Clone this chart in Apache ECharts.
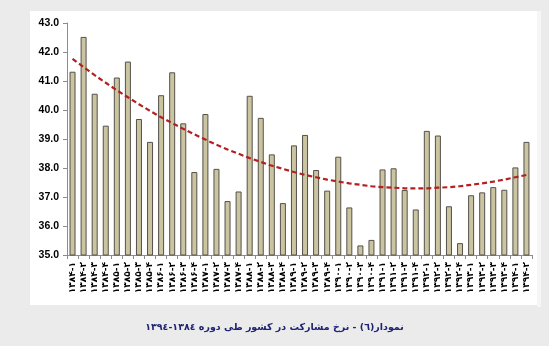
<!DOCTYPE html>
<html><head><meta charset="utf-8">
<script src="https://cdn.jsdelivr.net/npm/echarts@6/dist/echarts.min.js"></script>
<style>html,body{margin:0;padding:0;background:#ebebeb}#c{width:549px;height:346px}</style>
</head><body><div id="c"></div>
<script>
const years = ['۱۳۸۴','۱۳۸۵','۱۳۸۶','۱۳۸۷','۱۳۸۸','۱۳۸۹','۱۳۹۰','۱۳۹۱','۱۳۹۲','۱۳۹۳','۱۳۹۴'];
const quarters = ['۱','۲','۳','۴'];
const categories = [];
years.forEach(y => quarters.forEach(q => categories.push(y + '-' + q)));
categories.length = 42; // up to ۱۳۹۴-۲

const participation = [41.32,42.52,40.56,39.46,41.12,41.67,39.69,38.90,40.51,41.30,
  39.54,37.86,39.86,37.97,36.86,37.19,40.49,39.73,38.47,36.79,
  38.78,39.14,37.93,37.22,38.39,36.64,35.33,35.52,37.95,37.99,
  37.24,36.57,39.28,39.12,36.68,35.41,37.06,37.16,37.34,37.25,
  38.02,38.90];

const trend = [41.76,41.48,41.20,40.94,40.68,40.44,40.20,39.97,39.75,39.55,
  39.35,39.16,38.98,38.80,38.64,38.49,38.34,38.21,38.08,37.97,
  37.86,37.76,37.68,37.60,37.53,37.47,37.42,37.37,37.34,37.32,
  37.30,37.30,37.30,37.32,37.34,37.37,37.42,37.47,37.53,37.60,
  37.68,37.76];

const yTicks = {min: 35, max: 43, interval: 1};
const titleText = '\u202Bنمودار(٦) - نرخ مشارکت در کشور طی دوره ١٣٨٤-١٣٩٤\u202C';

const chart = echarts.init(document.getElementById('c'));
chart.setOption({
  backgroundColor: '#ebebeb',
  animation: false,
  graphic: {elements: [
    {type: 'rect', z: -10, shape: {x: 30, y: 11, width: 507, height: 294}, style: {fill: '#ffffff'}},
    {type: 'rect', z: -11, shape: {x: 537, y: 11, width: 4, height: 296}, style: {fill: '#f6f6f6'}}
  ]},
  title: {
    text: titleText, left: 'center', top: 318,
    textStyle: {fontFamily: 'DejaVu Sans', fontSize: 9.5, fontWeight: 'bold', color: '#1f2472'}
  },
  grid: {left: 67, right: 17, top: 23, bottom: 91},
  xAxis: {
    type: 'category', data: categories, boundaryGap: true,
    axisLine: {lineStyle: {color: '#8c8c8c'}},
    axisTick: {show: true, interval: 0, length: 4, lineStyle: {color: '#8c8c8c'}},
    axisLabel: {interval: 0, rotate: 90, margin: 7, fontFamily: 'DejaVu Sans', fontSize: 9, fontWeight: 'bold', color: '#000'}
  },
  yAxis: {
    type: 'value', min: yTicks.min, max: yTicks.max, interval: yTicks.interval,
    splitLine: {show: false},
    axisLine: {show: true, lineStyle: {color: '#8c8c8c'}},
    axisTick: {show: true, length: 4, lineStyle: {color: '#8c8c8c'}},
    axisLabel: {formatter: v => v.toFixed(1), fontFamily: 'Liberation Sans', fontSize: 10.5, fontWeight: 'bold', color: '#000', margin: 8}
  },
  series: [
    {type: 'bar', data: participation, barWidth: 6,
     itemStyle: {color: '#cbc4a1', borderColor: '#55514a', borderWidth: 1}},
    {type: 'line', data: trend, symbol: 'none', smooth: false, z: 5,
     lineStyle: {color: '#b3201f', width: 2.2, type: [5, 3]}}
  ]
});
</script></body></html>
